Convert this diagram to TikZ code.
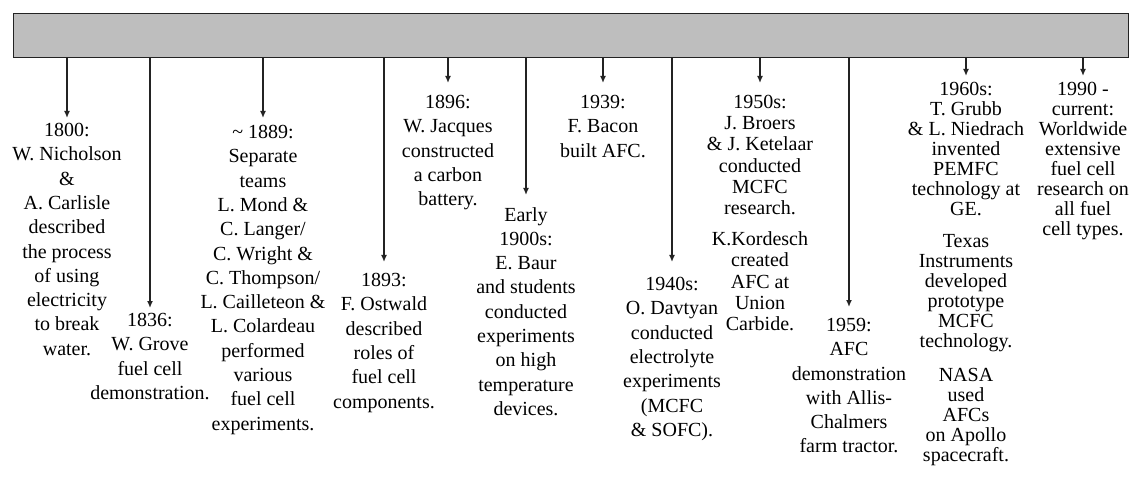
\documentclass[tikz,border=0pt]{standalone}
\usepackage{fontspec}
\setmainfont{Liberation Serif}
\usetikzlibrary{positioning,arrows.meta}
\definecolor{barfill}{RGB}{190,190,190}
\definecolor{inkline}{RGB}{35,35,35}
\tikzset{
  event/.style={align=center, inner sep=0pt, font=\fontsize{20}{24.3}\selectfont},
  snug/.style={font=\fontsize{20}{21.2}\selectfont},
  snugger/.style={font=\fontsize{20}{20}\selectfont},
  tick/.style={draw=inkline, line width=1.4pt, -{Latex[length=7pt,width=6pt]}},
}
\begin{document}
\begin{tikzpicture}[x=1pt,y=-1pt]
    \useasboundingbox (0,0) rectangle (1141,481);
    %% Bar
    \node[draw=inkline, line width=1.4pt, fill=barfill, anchor=north west,
          minimum width=1115pt, minimum height=44pt, inner sep=0pt] (bar) at (13,13) {};
    %% Arrow tips
    \coordinate (t1800) at (67,118);
    \coordinate (t1836) at (150,308);
    \coordinate (t1889) at (263,118);
    \coordinate (t1893) at (384,262);
    \coordinate (t1896) at (448,83);
    \coordinate (t1900) at (526,195);
    \coordinate (t1939) at (603,83);
    \coordinate (t1940) at (672,262);
    \coordinate (t1950) at (760,83);
    \coordinate (t1959) at (849,307);
    \coordinate (t1960) at (966,76);
    \coordinate (t1990) at (1083,76);
    %% Events
    \node[event, below=5pt of t1800] (e1800) {1800:\\W. Nicholson\\\&\\A. Carlisle\\described\\the process\\of using\\electricity\\to break\\water.};
    \node[event, below=5pt of t1836] (e1836) {1836:\\W. Grove\\fuel cell\\demonstration.};
    \node[event, below=7pt of t1889] (e1889) {\textasciitilde\ 1889:\\Separate\\teams\\L. Mond \&\\C. Langer/\\C. Wright \&\\C. Thompson/\\L. Cailleteon \&\\L. Colardeau\\performed\\various\\fuel cell\\experiments.};
    \node[event, below=11pt of t1893] (e1893) {1893:\\F. Ostwald\\described\\roles of\\fuel cell\\components.};
    \node[event, below=12pt of t1896] (e1896) {1896:\\W. Jacques\\constructed\\a carbon\\battery.};
    \node[event, below=12pt of t1900] (e1900) {Early\\1900s:\\E. Baur\\and students\\conducted\\experiments\\on high\\temperature\\devices.};
    \node[event, below=12pt of t1939] (e1939) {1939:\\F. Bacon\\built AFC.};
    \node[event, below=15pt of t1940] (e1940) {1940s:\\O. Davtyan\\conducted\\electrolyte\\experiments\\(MCFC\\\& SOFC).};
    \node[event, snug, below=12pt of t1950] (e1950) {1950s:\\J. Broers\\\& J. Ketelaar\\conducted\\MCFC\\research.\\[10pt]K.Kordesch\\created\\AFC at\\Union\\Carbide.};
    \node[event, below=11pt of t1959] (e1959) {1959:\\AFC\\demonstration\\with Allis-\\Chalmers\\farm tractor.};
    \node[event, snugger, below=6pt of t1960] (e1960) {1960s:\\T. Grubb\\\& L. Niedrach\\invented\\PEMFC\\technology at\\GE.\\[12pt]Texas\\Instruments\\developed\\prototype\\MCFC\\technology.\\[14pt]NASA\\used\\AFCs\\on Apollo\\spacecraft.};
    \node[event, snugger, below=6pt of t1990] (e1990) {1990 -\\current:\\Worldwide\\extensive\\fuel cell\\research on\\all fuel\\cell types.};
    %% Ticks
    \foreach \y in {1800,1836,1889,1893,1896,1900,1939,1940,1950,1959,1960,1990}
        \draw[tick] (bar.south -| t\y) -- (t\y);
\end{tikzpicture}
\end{document}
